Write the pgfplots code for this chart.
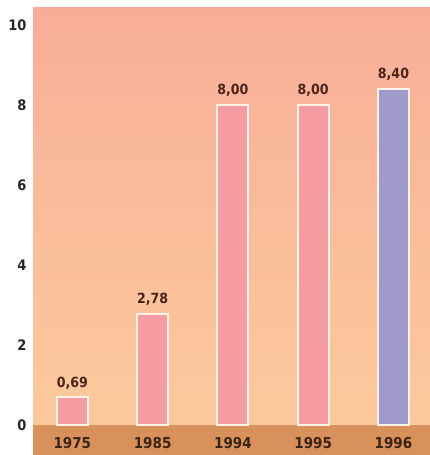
\documentclass[border=0pt]{standalone}
\usepackage{pgfplots}
\pgfplotsset{compat=1.18}
\usepackage{fontspec}
\setmainfont{DejaVu Sans Condensed}
\definecolor{bgtop}{HTML}{F8AD99}
\definecolor{bgbot}{HTML}{FCCB9C}
\definecolor{band}{HTML}{D8915A}
\definecolor{barpink}{HTML}{F59CA2}
\definecolor{barlav}{HTML}{A09ACB}
\definecolor{vallab}{HTML}{4A2418}
\definecolor{yearlab}{HTML}{3A2414}
\definecolor{bordercol}{HTML}{FFF2E6}
\begin{document}
\begin{tikzpicture}
\begin{axis}[
  set layers,
  scale only axis,
  width=397pt, height=447pt,
  xmin=-0.49, xmax=4.455,
  ymin=-0.75, ymax=10.425,
  axis line style={draw=none},
  axis background/.style={shade, top color=bgtop, bottom color=bgbot, middle color=bgtop!45!bgbot},
  ytick={0,2,4,6,8,10},
  xtick=\empty,
  major tick length=0pt,
  yticklabel style={font=\bfseries\fontsize{14.5}{17}\selectfont, text=black!85, xshift=-3pt},
  /pgf/number format/assume math mode=true,
  clip=false,
  ybar, bar width=31pt, bar shift=0pt,
  nodes near coords,
  point meta=explicit symbolic,
  every node near coord/.append style={font=\bfseries\fontsize{14}{16}\selectfont, text=vallab, yshift=4pt},
]
\fill[band, on layer=axis background] (axis cs:-0.49,-0.75) rectangle (axis cs:4.455,0);
\addplot[fill=barpink, draw=bordercol, line width=2pt] table[meta=lab] {
x y lab
0 0.69 0,69
1 2.78 2,78
2 8.00 8,00
3 8.00 8,00
};
\addplot[fill=barlav, draw=bordercol, line width=2pt] table[meta=lab] {
x y lab
4 8.40 8,40
};
\node[font=\bfseries\fontsize{15}{17}\selectfont, text=yearlab] at (axis cs:0,-0.45) {1975};
\node[font=\bfseries\fontsize{15}{17}\selectfont, text=yearlab] at (axis cs:1,-0.45) {1985};
\node[font=\bfseries\fontsize{15}{17}\selectfont, text=yearlab] at (axis cs:2,-0.45) {1994};
\node[font=\bfseries\fontsize{15}{17}\selectfont, text=yearlab] at (axis cs:3,-0.45) {1995};
\node[font=\bfseries\fontsize{15}{17}\selectfont, text=yearlab] at (axis cs:4,-0.45) {1996};
\end{axis}
\pgfresetboundingbox
\path (current axis.south west) ++(-33pt,0) rectangle ([yshift=8pt]current axis.north east);
\end{tikzpicture}
\end{document}
